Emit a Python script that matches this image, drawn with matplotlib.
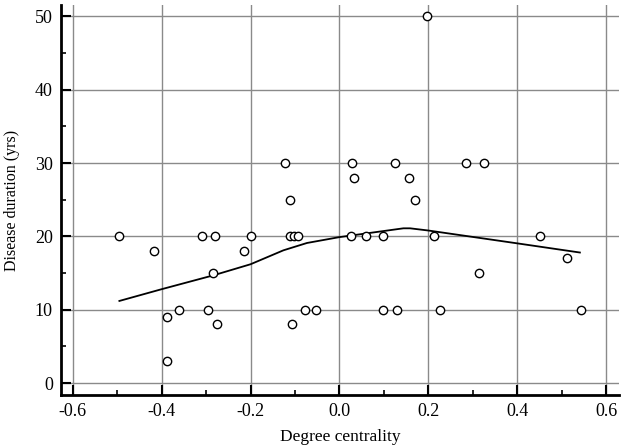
import numpy as np
import matplotlib
matplotlib.use("Agg")
import matplotlib.pyplot as plt
from matplotlib.ticker import MultipleLocator

plt.rcParams['font.family'] = ['Liberation Serif', 'DejaVu Serif']

# scatter data
degree = [-0.496, -0.418, -0.309, -0.279, -0.199, -0.214, -0.285, -0.112,
          -0.112, -0.103, -0.094, -0.361, -0.296, -0.388, -0.275, -0.388,
          -0.107, -0.078, -0.052, 0.025, -0.122, 0.029, 0.032, 0.197,
          0.124, 0.156, 0.170, 0.285, 0.325, 0.059, 0.098, 0.213,
          0.452, 0.512, 0.313, 0.099, 0.130, 0.226, 0.544]
duration = [20, 18, 20, 20, 20, 18, 15, 25,
            20, 20, 20, 10, 10, 9, 8, 3,
            8, 10, 10, 20, 30, 30, 28, 50,
            30, 28, 25, 30, 30, 20, 20, 20,
            20, 17, 15, 10, 10, 10, 10]

# smoothed trend line
fit_x = [-0.495, -0.4, -0.283, -0.2, -0.126, -0.073, 0.0, 0.144, 0.159, 0.2, 0.4, 0.541]
fit_y = [11.2, 12.8, 14.7, 16.2, 18.1, 19.1, 19.9, 21.1, 21.1, 20.8, 19.05, 17.8]

fig = plt.figure(figsize=(6.24, 4.48), dpi=100)
ax = fig.add_axes([0.098, 0.118, 0.894, 0.871])

ax.plot(fit_x, fit_y, color='black', lw=1.3, zorder=3)
ax.plot(degree, duration, 'o', ms=6, mfc='white', mec='black', mew=1.0, zorder=4)

ax.set_xlim(-0.626, 0.629)
ax.set_ylim(-1.64, 51.55)
ax.xaxis.set_minor_locator(MultipleLocator(0.1))
ax.yaxis.set_major_locator(MultipleLocator(10))
ax.yaxis.set_minor_locator(MultipleLocator(5))
ax.set_xticks(np.arange(-0.6, 0.61, 0.2))
ax.set_xticklabels(['-0.6', '-0.4', '-0.2', '0.0', '0.2', '0.4', '0.6'])

ax.grid(True, which='major', color='#8a8a8a', lw=1.0)
ax.set_axisbelow(True)

for side in ['top', 'right']:
    ax.spines[side].set_visible(False)
for side in ['left', 'bottom']:
    ax.spines[side].set_linewidth(2.0)

ax.tick_params(which='major', direction='in', length=7, width=1.5, labelsize=13, pad=6)
ax.tick_params(which='minor', direction='in', length=3.5, width=1.2)

ax.set_xlabel('Degree centrality', fontsize=12.5, labelpad=6)
ax.set_ylabel('Disease duration (yrs)', fontsize=11.5, labelpad=11)

fig.savefig('out.png', dpi=100)
